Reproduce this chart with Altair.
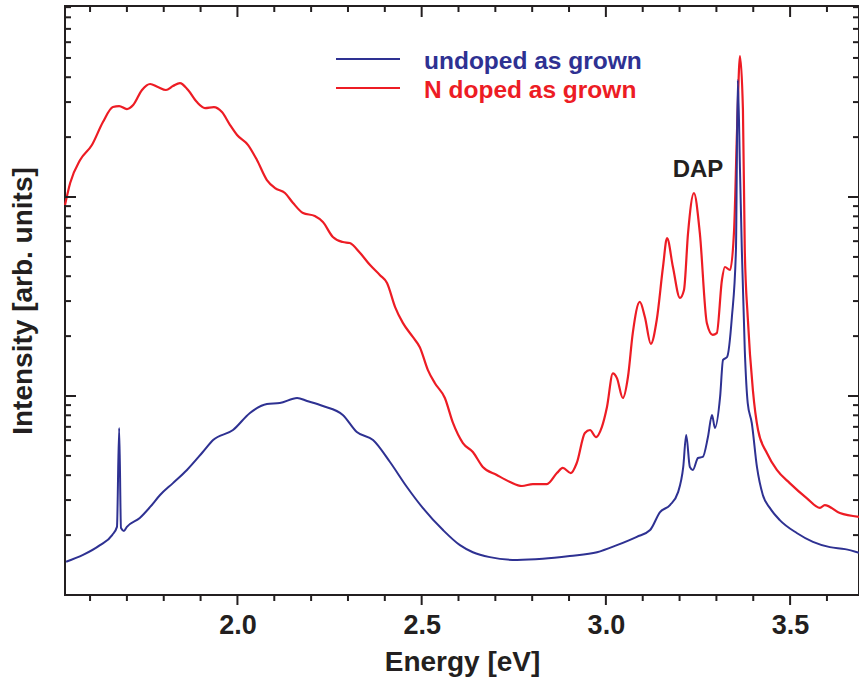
import altair as alt
import pandas as pd

FONT = "Liberation Sans"
INK = "#231F20"
RED = "#ED1C24"
BLUE = "#2E3192"

# Photoluminescence spectrum, N doped sample (energy in eV, intensity in arb. units)
n_energy = [
    1.532, 1.546, 1.573, 1.605, 1.635, 1.662, 1.679, 1.700, 1.717, 1.741,
    1.763, 1.784, 1.806, 1.825, 1.844, 1.866, 1.890, 1.912, 1.936, 1.958,
    1.980, 1.999, 2.029, 2.053, 2.080, 2.102, 2.129, 2.151, 2.178, 2.210,
    2.232, 2.259, 2.286, 2.305, 2.333, 2.360, 2.387, 2.406, 2.428, 2.449,
    2.476, 2.495, 2.517, 2.536, 2.563, 2.585, 2.612, 2.639, 2.666, 2.704,
    2.740, 2.772, 2.802, 2.840, 2.867, 2.883, 2.905, 2.921, 2.943, 2.957,
    2.973, 2.989, 3.003, 3.019, 3.030, 3.046, 3.060, 3.073, 3.092, 3.106,
    3.122, 3.138, 3.155, 3.166, 3.182, 3.201, 3.212, 3.223, 3.239, 3.255,
    3.274, 3.290, 3.301, 3.315, 3.323, 3.337, 3.348, 3.356, 3.364, 3.372,
    3.377, 3.385, 3.399, 3.413, 3.437, 3.464, 3.499, 3.545, 3.581, 3.594,
    3.635, 3.687,
]
n_intensity = [
    91.2, 117.6, 153.4, 182.5, 238.2, 283.3, 286.6, 276.8, 289.9, 345.0,
    369.8, 357.3, 345.0, 361.3, 374.0, 345.0, 300.0, 280.0, 283.3, 267.3,
    230.0, 205.0, 182.5, 153.4, 121.7, 110.9, 104.7, 93.3, 83.1, 80.3,
    74.9, 63.0, 59.4, 58.7, 52.3, 45.5, 40.5, 37.0, 28.0, 23.3,
    19.8, 17.6, 13.5, 11.6, 9.77, 7.32, 5.80, 5.23, 4.40, 4.01,
    3.70, 3.53, 3.61, 3.61, 4.10, 4.35, 4.10, 4.61, 6.52, 6.75,
    6.22, 6.98, 8.81, 13.0, 12.3, 9.77, 12.5, 20.7, 29.7, 24.9,
    18.3, 24.1, 44.5, 62.2, 44.5, 31.1, 34.1, 65.9, 104.7, 65.9,
    23.3, 20.3, 20.7, 38.3, 44.5, 43.0, 68.3, 217.0, 511.0, 273.6,
    54.2, 24.9, 10.7, 6.75, 5.17, 4.25, 3.65, 3.07, 2.74, 2.83,
    2.58, 2.47,
]

# Photoluminescence spectrum, undoped sample
u_energy = [
    1.535, 1.581, 1.627, 1.660, 1.673, 1.679, 1.684, 1.692, 1.700, 1.735,
    1.763, 1.790, 1.825, 1.863, 1.906, 1.934, 1.988, 2.034, 2.080, 2.115,
    2.162, 2.189, 2.232, 2.286, 2.324, 2.368, 2.414, 2.460, 2.503, 2.558,
    2.604, 2.639, 2.685, 2.759, 2.829, 2.902, 2.976, 3.030, 3.084, 3.120,
    3.147, 3.174, 3.196, 3.210, 3.218, 3.228, 3.236, 3.250, 3.263, 3.277,
    3.288, 3.296, 3.310, 3.318, 3.329, 3.342, 3.353, 3.358, 3.364, 3.369,
    3.377, 3.385, 3.396, 3.410, 3.426, 3.445, 3.472, 3.518, 3.562, 3.608,
    3.649, 3.687,
]
u_intensity = [
    1.47, 1.59, 1.78, 2.00, 2.20, 6.91, 2.17, 2.10, 2.20, 2.44,
    2.77, 3.18, 3.65, 4.25, 5.23, 6.01, 6.75, 8.22, 9.12, 9.22,
    9.77, 9.44, 8.91, 8.03, 6.59, 6.01, 4.66, 3.49, 2.74, 2.12,
    1.78, 1.64, 1.55, 1.50, 1.52, 1.57, 1.64, 1.78, 1.96, 2.12,
    2.61, 2.83, 3.29, 4.40, 6.37, 4.40, 4.25, 4.88, 4.94, 6.22,
    8.03, 6.91, 9.89, 15.2, 15.7, 24.9, 54.2, 387.0, 136.7, 54.2,
    17.0, 9.22, 7.32, 4.40, 3.18, 2.74, 2.38, 2.05, 1.85, 1.74,
    1.70, 1.63,
]

series_names = ["undoped as grown", "N doped as grown"]

# Tick positions
x_major = [2.0, 2.5, 3.0, 3.5]
x_minor = [1.6, 1.7, 1.8, 1.9, 2.1, 2.2, 2.3, 2.4, 2.6, 2.7, 2.8, 2.9,
           3.1, 3.2, 3.3, 3.4, 3.6]
y_major = [10, 100]
y_minor = [2, 3, 4, 5, 6, 7, 8, 9, 20, 30, 40, 50, 60, 70, 80, 90,
           200, 300, 400, 500, 600, 700, 800, 900]

W, H = 794, 589
xscale = alt.Scale(domain=[1.532, 3.687], nice=False, zero=False)
yscale = alt.Scale(type="log", domain=[1, 912], nice=False)

n_df = pd.DataFrame({"energy": n_energy, "intensity": n_intensity})
u_df = pd.DataFrame({"energy": u_energy, "intensity": u_intensity})

# One axis definition per channel, shared by every layer so they merge cleanly
x_axis = alt.Axis(
    values=x_major, format=".1f", ticks=False, domain=False, grid=False,
    labelPadding=17, labelFont=FONT, labelFontSize=27, labelFontWeight="bold",
    labelColor=INK, title="Energy [eV]", titleFont=FONT, titleFontSize=28,
    titleFontWeight="bold", titleColor=INK, titlePadding=10,
)
y_axis = alt.Axis(
    ticks=False, labels=False, domain=False, grid=False,
    title="Intensity [arb. units]", titleFont=FONT, titleFontSize=28,
    titleFontWeight="bold", titleColor=INK, titlePadding=28,
)
X = alt.X("energy:Q", scale=xscale, axis=x_axis)
Y = alt.Y("intensity:Q", scale=yscale, axis=y_axis)

red_line = alt.Chart(n_df).mark_line(
    color=RED, strokeWidth=2.2, interpolate="monotone"
).encode(x=X, y=Y)
blue_line = alt.Chart(u_df).mark_line(
    color=BLUE, strokeWidth=2, interpolate="monotone"
).encode(x=X, y=Y)


def x_ticks(values, y0, y1):
    return alt.Chart(pd.DataFrame({"energy": values})).mark_rule(
        color=INK, strokeWidth=2
    ).encode(x=X, y=alt.value(y0), y2=alt.value(y1))


def y_ticks(values, x0, x1):
    return alt.Chart(pd.DataFrame({"intensity": values})).mark_rule(
        color=INK, strokeWidth=2
    ).encode(y=Y, x=alt.value(x0), x2=alt.value(x1))


ticks = [
    x_ticks(x_major, 0, 11), x_ticks(x_minor, 0, 6),
    x_ticks(x_major, H, H + 10), x_ticks(x_minor, H, H + 6),
    y_ticks(y_major, 0, 11), y_ticks(y_minor, 0, 6),
    y_ticks(y_major, W, W - 11), y_ticks(y_minor, W, W - 6),
]

one = alt.Data(values=[{}])

legend_layers = []
for name, color, ly in [(series_names[0], BLUE, 53), (series_names[1], RED, 82)]:
    legend_layers.append(
        alt.Chart(one).mark_rule(color=color, strokeWidth=2.2).encode(
            x=alt.value(271), x2=alt.value(335), y=alt.value(ly)
        )
    )
    legend_layers.append(
        alt.Chart(one).mark_text(
            align="left", baseline="alphabetic", font=FONT, fontSize=24.5,
            fontWeight="bold", color=color, text=name,
        ).encode(x=alt.value(359), y=alt.value(ly + 10))
    )

dap = alt.Chart(one).mark_text(
    align="center", baseline="alphabetic", font=FONT, fontSize=24,
    fontWeight="bold", color=INK, text="DAP",
).encode(x=alt.value(633), y=alt.value(171))

chart = alt.layer(
    red_line, blue_line, *ticks, *legend_layers, dap
).properties(
    width=W, height=H,
    background="white",
    autosize=alt.AutoSizeParams(type="none"),
    padding={"left": 65, "top": 6, "right": 0, "bottom": 91},
).configure_view(
    stroke=INK, strokeWidth=2
)

chart.save("out.html", embed_options={"renderer": "svg", "actions": False})
